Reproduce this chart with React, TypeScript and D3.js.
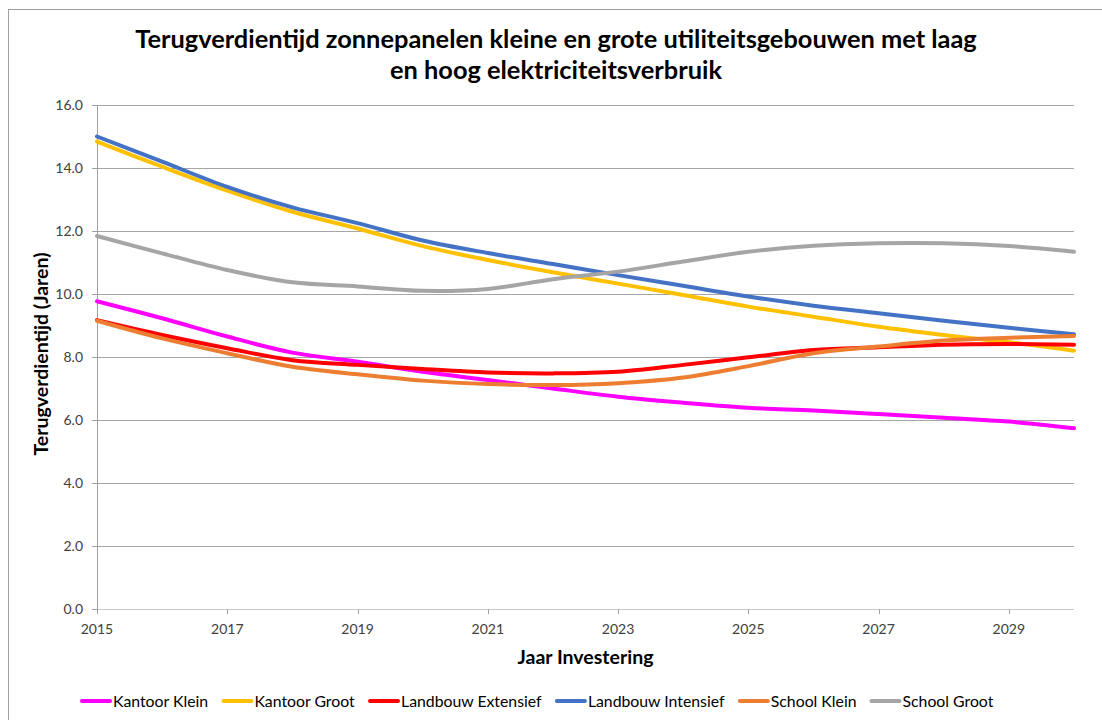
import React from "react";
import * as d3 from "d3";

const years = [2015, 2016, 2017, 2018, 2019, 2020, 2021, 2022, 2023, 2024, 2025, 2026, 2027, 2028, 2029, 2030];
const kantoorKlein = [9.77, 9.23, 8.65, 8.14, 7.85, 7.53, 7.27, 7.0, 6.74, 6.55, 6.39, 6.3, 6.19, 6.07, 5.95, 5.74];
const kantoorGroot = [14.84, 14.04, 13.28, 12.61, 12.08, 11.52, 11.08, 10.69, 10.33, 9.97, 9.6, 9.28, 8.96, 8.7, 8.47, 8.2];
const landbouwExtensief = [9.17, 8.7, 8.28, 7.9, 7.75, 7.62, 7.51, 7.48, 7.53, 7.75, 7.99, 8.22, 8.31, 8.39, 8.41, 8.39];
const landbouwIntensief = [15.0, 14.2, 13.4, 12.75, 12.25, 11.7, 11.3, 10.95, 10.6, 10.26, 9.92, 9.63, 9.39, 9.15, 8.93, 8.72];
const schoolKlein = [9.15, 8.59, 8.12, 7.69, 7.45, 7.25, 7.14, 7.11, 7.17, 7.35, 7.71, 8.12, 8.33, 8.52, 8.61, 8.67];
const schoolGroot = [11.84, 11.29, 10.76, 10.37, 10.24, 10.1, 10.16, 10.47, 10.71, 11.03, 11.34, 11.53, 11.61, 11.61, 11.52, 11.34];

const seriesNames = ["Kantoor Klein", "Kantoor Groot", "Landbouw Extensief", "Landbouw Intensief", "School Klein", "School Groot"];
const seriesValues = [kantoorKlein, kantoorGroot, landbouwExtensief, landbouwIntensief, schoolKlein, schoolGroot];
const seriesColors = ["#FF00FF", "#FFC000", "#FF0000", "#4472C4", "#ED7D31", "#A5A5A5"];

const yTicks = [0, 2, 4, 6, 8, 10, 12, 14, 16];
const xTickLabels = [2015, 2017, 2019, 2021, 2023, 2025, 2027, 2029];

const titleLines = ["Terugverdientijd zonnepanelen kleine en grote utiliteitsgebouwen met laag", "en hoog elektriciteitsverbruik"];
const yTitle = "Terugverdientijd (Jaren)";
const xTitle = "Jaar Investering";

const W = 1102;
const H = 720;
const FONT = "Lato, 'Open Sans', sans-serif";

function measure(text: string, font: string): number {
  if (typeof document === "undefined") return text.length * 8;
  const c = document.createElement("canvas");
  const ctx = c.getContext("2d");
  if (!ctx) return text.length * 8;
  ctx.font = font;
  return ctx.measureText(text).width;
}

export default function App() {
  const left = 97, right = 1074, top = 105, bottom = 609;
  const x = d3.scaleLinear().domain([years[0], years[years.length - 1]]).range([left, right]);
  const y = d3.scaleLinear().domain([0, 16]).range([bottom, top]);
  const line = d3
    .line<number>()
    .x((_, i) => x(years[i]))
    .y((d) => y(d))
    .curve(d3.curveCatmullRom.alpha(0.5));

  // legend layout
  const legendSize = 15.8;
  const legendFont = `${legendSize}px ${FONT}`;
  const swatch = 32;
  let cursor = 80;
  const legendItems = seriesNames.map((name, i) => {
    const w = measure(name, legendFont);
    const item = { name, color: seriesColors[i], x: cursor, w };
    cursor += swatch + 1 + w + 13;
    return item;
  });

  return (
    <svg width={W} height={H} style={{ position: "absolute", left: 0, top: 0, background: "#fff" }} fontFamily={FONT}>
      <rect x={0} y={0} width={W} height={H} fill="#fff" />
      <rect x={8.5} y={9.5} width={W + 10} height={H + 10} fill="none" stroke="#a0a0a0" strokeWidth={1} />
      {titleLines.map((t, i) => (
        <text key={i} x={556} y={48 + i * 31} textAnchor="middle" fontSize={25.4} fontWeight="bold" fill="#000">
          {t}
        </text>
      ))}
      {/* gridlines */}
      {yTicks.map((t) => (
        <line key={"g" + t} x1={left} x2={right} y1={Math.round(y(t)) + 0.5} y2={Math.round(y(t)) + 0.5} stroke={t === 0 ? "#c8c8c8" : "#a6a6a6"} strokeWidth={1} />
      ))}
      {/* y axis */}
      <line x1={left + 0.5} x2={left + 0.5} y1={top} y2={bottom} stroke="#a0a0a0" />
      {yTicks.map((t) => (
        <g key={"yt" + t}>
          <line x1={left - 5} x2={left} y1={Math.round(y(t)) + 0.5} y2={Math.round(y(t)) + 0.5} stroke="#a0a0a0" />
          <text x={83} y={y(t)} dy="0.35em" textAnchor="end" fontSize={14} fill="#404040">
            {d3.format(".1f")(t)}
          </text>
        </g>
      ))}
      {/* x axis ticks */}
      {xTickLabels.map((t) => (
        <g key={"xt" + t}>
          <line x1={Math.round(x(t)) + 0.5} x2={Math.round(x(t)) + 0.5} y1={bottom} y2={bottom + 5} stroke="#a0a0a0" />
          <text x={x(t)} y={634} textAnchor="middle" fontSize={14} fill="#404040">
            {t}
          </text>
        </g>
      ))}
      {/* lines */}
      {seriesValues.map((vals, i) => (
        <path key={seriesNames[i]} d={line(vals) || ""} fill="none" stroke={seriesColors[i]} strokeWidth={4} strokeLinejoin="round" strokeLinecap="round" />
      ))}
      {/* axis titles */}
      <text x={(left + right) / 2} y={664} textAnchor="middle" fontSize={19.5} fontWeight="bold" fill="#000">
        {xTitle}
      </text>
      <text transform={`translate(48, ${(top + bottom) / 2 - 3}) rotate(-90)`} textAnchor="middle" fontSize={19.5} fontWeight="bold" fill="#000">
        {yTitle}
      </text>
      {/* legend */}
      {legendItems.map((it) => (
        <g key={"l" + it.name}>
          <line x1={it.x + 2} x2={it.x + swatch - 2} y1={701} y2={701} stroke={it.color} strokeWidth={4} strokeLinecap="round" />
          <text x={it.x + swatch + 1} y={707} fontSize={legendSize} fill="#000">
            {it.name}
          </text>
        </g>
      ))}
    </svg>
  );
}
